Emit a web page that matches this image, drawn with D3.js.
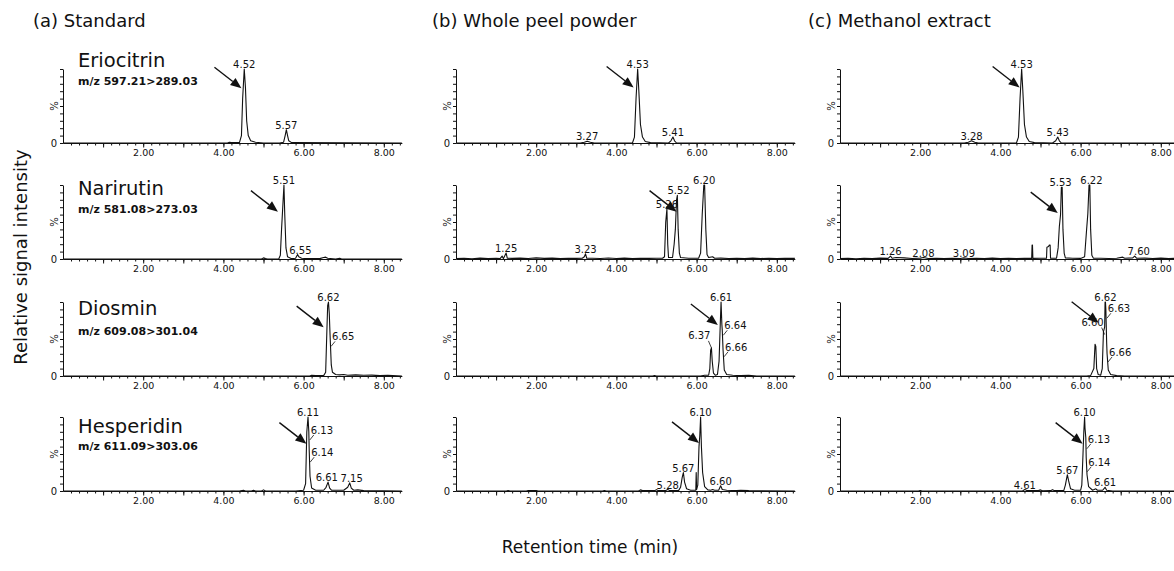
<!DOCTYPE html>
<html lang="en">
<head>
<meta charset="utf-8">
<title>MRM chromatograms</title>
<script src="https://cdn.jsdelivr.net/npm/d3@7"></script>
<style>
body { margin: 0; background: #fff; }
svg text { font-family: "DejaVu Sans", sans-serif; fill: #111; }
</style>
</head>
<body>
<div id="chart"></div>
<script>

var w = 1174, h = 571;

var columnTitles = ["(a) Standard", "(b) Whole peel powder", "(c) Methanol extract"];
var compounds = ["Eriocitrin", "Narirutin", "Diosmin", "Hesperidin"];
var transitions = ["m/z 597.21>289.03", "m/z 581.08>273.03", "m/z 609.08>301.04", "m/z 611.09>303.06"];
var timeTicks = [2, 4, 6, 8];

// traces: [retention time (min), % of max]
var eriStd = [[0,0],[4.1,0],[4.15,1],[4.2,0.5],[4.4,0.5],[4.45,10],[4.48,60],[4.52,100],[4.55,75],[4.58,30],[4.62,10],[4.68,3],[4.8,1],[5.0,0],[5.4,0],[5.5,1],[5.54,10],[5.57,18],[5.6,10],[5.63,3],[5.7,0.5],[8.45,0]];
var eriPeel = [[0,0],[3.1,0],[3.2,1],[3.27,2.5],[3.35,1],[3.45,0],[4.4,0],[4.45,8],[4.49,60],[4.53,100],[4.56,70],[4.6,25],[4.65,8],[4.72,2],[4.85,0.5],[5.3,0],[5.36,3],[5.41,8],[5.45,3],[5.5,0],[8.45,0]];
var eriMeoh = [[0,0],[3.1,0],[3.2,1],[3.28,3],[3.36,1],[3.45,0],[4.4,0],[4.45,8],[4.49,60],[4.53,100],[4.56,70],[4.6,25],[4.65,8],[4.72,2],[4.85,0.5],[5.3,0],[5.38,3],[5.43,8],[5.47,3],[5.52,0],[8.45,0]];

var nariStd = [[0,0],[4.95,0],[5.0,1.5],[5.05,0.5],[5.1,0],[5.38,0],[5.42,5],[5.45,40],[5.48,70],[5.51,100],[5.53,60],[5.56,15],[5.6,3],[5.7,0.5],[5.8,1],[5.85,6],[5.88,3],[5.95,1],[6.1,0.5],[6.4,0.5],[6.5,2],[6.55,2.5],[6.6,1],[6.8,0],[6.9,1],[6.95,0],[8.45,0]];
var nariPeel = [[0,0.5],[0.2,1],[0.4,0.3],[0.6,1.2],[0.8,0.5],[1.0,1],[1.1,0.5],[1.15,4],[1.18,0.5],[1.25,8],[1.28,1],[1.4,0.8],[1.6,1.2],[1.8,0.6],[2.0,1.5],[2.2,0.8],[2.4,1.2],[2.6,0.5],[2.8,1],[3.0,0.8],[3.15,1],[3.2,3],[3.23,7],[3.26,1],[3.4,1],[3.6,0.6],[3.8,1.3],[4.0,0.7],[4.2,1.2],[4.4,0.6],[4.6,1.1],[4.8,0.8],[5.0,1],[5.15,1],[5.2,3],[5.23,50],[5.26,68],[5.28,20],[5.3,2],[5.4,2],[5.44,20],[5.47,40],[5.5,80],[5.52,86],[5.54,40],[5.57,8],[5.6,2],[5.8,1],[6.05,1],[6.1,8],[6.14,60],[6.18,100],[6.2,100],[6.23,40],[6.26,6],[6.3,2],[6.4,3],[6.45,1],[6.6,1.2],[6.8,0.6],[7.0,1],[7.2,0.5],[7.4,1.2],[7.6,0.7],[7.8,1],[8.0,0.6],[8.2,1],[8.45,0.8]];
var nariMeoh = [[0,0.5],[0.2,1],[0.4,0.4],[0.6,1],[0.8,0.5],[1.0,1.2],[1.2,0.8],[1.26,4],[1.3,1],[1.4,2],[1.6,1.5],[1.8,0.6],[2.0,1.2],[2.08,2],[2.2,0.6],[2.4,1],[2.6,0.5],[2.8,1.1],[3.0,0.6],[3.09,1.5],[3.2,0.7],[3.4,1],[3.6,0.5],[3.8,1.2],[4.0,0.7],[4.2,1],[4.4,0.6],[4.6,1.1],[4.78,0.8],[4.79,19],[4.8,19],[4.81,0.8],[5.0,1],[5.15,1],[5.16,16],[5.2,17],[5.22,19],[5.24,19],[5.25,1],[5.4,1],[5.44,15],[5.47,44],[5.5,60],[5.52,97],[5.54,97],[5.56,40],[5.59,8],[5.62,1.5],[5.8,1],[6.0,0.8],[6.1,3],[6.15,40],[6.18,61],[6.21,100],[6.23,100],[6.25,40],[6.28,5],[6.32,1],[6.5,1],[6.7,0.6],[6.9,1],[7.05,2.5],[7.1,1],[7.3,1.5],[7.35,4],[7.4,1],[7.6,1.2],[7.8,0.6],[8.0,1.2],[8.2,0.7],[8.45,1]];

var dioStd = [[0,0],[6.15,0],[6.2,1],[6.3,0.5],[6.5,0.5],[6.55,5],[6.58,60],[6.6,95],[6.62,100],[6.64,85],[6.66,55],[6.69,15],[6.72,5],[6.8,2],[6.9,1.5],[7.0,2],[7.1,1],[7.3,1.5],[7.5,1],[7.7,1.2],[7.9,0.5],[8.1,1],[8.45,0]];
var dioPeel = [[0,0],[4.9,0],[4.95,0.5],[5.0,0],[6.1,0],[6.2,1],[6.3,1],[6.33,10],[6.35,35],[6.37,38],[6.39,20],[6.42,4],[6.47,1],[6.52,2],[6.56,20],[6.59,70],[6.61,100],[6.63,70],[6.64,62],[6.66,35],[6.69,8],[6.75,2],[6.9,1],[7.1,0.5],[7.3,0.8],[7.5,0],[8.45,0]];
var dioMeoh = [[0,0],[6.15,0],[6.25,0.5],[6.33,10],[6.36,43],[6.38,40],[6.4,10],[6.44,2],[6.5,1],[6.54,10],[6.57,60],[6.6,66],[6.61,100],[6.62,100],[6.63,90],[6.65,45],[6.66,30],[6.69,8],[6.75,2],[6.9,0.5],[7.1,0],[8.45,0]];

var hesStd = [[0,0],[4.4,0],[4.5,1],[4.55,0],[4.7,0],[4.75,1],[4.8,0],[4.95,0],[5.0,1.5],[5.05,0],[5.8,0],[6.0,1],[6.05,10],[6.08,80],[6.11,100],[6.13,80],[6.14,55],[6.16,20],[6.2,4],[6.3,1],[6.5,1],[6.56,5],[6.61,12],[6.65,4],[6.7,1],[7.0,1],[7.1,5],[7.15,11],[7.19,4],[7.25,1],[7.35,1.5],[7.5,0.5],[8.45,0]];
var hesPeel = [[0,0],[1.25,0],[1.3,0.5],[1.35,0],[1.75,0],[1.8,0.6],[2.0,0.6],[2.05,0],[3.65,0],[3.7,0.5],[3.75,0],[4.55,0],[4.6,1.5],[4.65,0.5],[4.95,0.5],[5.0,1.8],[5.05,0.5],[5.22,0.5],[5.28,2],[5.33,0.5],[5.55,0.5],[5.6,5],[5.64,18],[5.67,25],[5.7,12],[5.75,3],[5.85,1],[5.98,1],[5.99,25],[6.0,2],[6.03,8],[6.06,60],[6.08,75],[6.1,100],[6.12,60],[6.15,25],[6.2,6],[6.28,1.5],[6.35,1],[6.4,2],[6.45,1],[6.55,1],[6.6,7],[6.64,2],[6.75,1],[7.0,0.5],[7.1,1],[7.3,0.5],[8.45,0]];
var hesMeoh = [[0,0],[1.95,0],[2.0,0.5],[2.05,0],[4.55,0],[4.61,2],[4.67,0.5],[4.95,0.5],[5.0,1.5],[5.05,0.3],[5.25,0.5],[5.3,1.8],[5.35,0.5],[5.58,0.5],[5.62,8],[5.67,22],[5.7,14],[5.75,3],[5.85,1],[6.0,1],[6.03,8],[6.06,50],[6.08,80],[6.1,100],[6.11,85],[6.13,72],[6.14,45],[6.16,22],[6.2,6],[6.3,1],[6.38,3],[6.42,1],[6.55,1],[6.61,5],[6.65,1],[6.8,0],[8.45,0]];

// peak labels: [text, time, %, "t" above | "r" leader right | "l" leader left]
var eriStdLabels = [["4.52",4.52,100,"t"],["5.57",5.57,18,"t"]];
var eriPeelLabels = [["4.53",4.53,100,"t"],["3.27",3.27,2.5,"t"],["5.41",5.41,8,"t"]];
var eriMeohLabels = [["4.53",4.53,100,"t"],["3.28",3.28,3,"t"],["5.43",5.43,8,"t"]];
var nariStdLabels = [["5.51",5.51,100,"t"],["6.55",5.92,6,"t"]];
var nariPeelLabels = [["1.25",1.25,8,"t"],["3.23",3.23,7,"t"],["5.26",5.26,68,"t"],["5.52",5.55,86,"t"],["6.20",6.19,100,"t"]];
var nariMeohLabels = [["1.26",1.26,4,"t"],["2.08",2.08,2,"t"],["3.09",3.09,1.5,"t"],["5.53",5.5,97,"t"],["6.22",6.27,100,"t"],["7.60",7.45,4,"t"]];
var dioStdLabels = [["6.62",6.62,100,"t"],["6.65",6.66,40,"r"]];
var dioPeelLabels = [["6.61",6.61,100,"t"],["6.64",6.64,55,"r"],["6.66",6.66,26,"r"],["6.37",6.37,38,"l"]];
var dioMeohLabels = [["6.62",6.62,100,"t"],["6.63",6.63,78,"r"],["6.60",6.6,56,"l"],["6.66",6.66,19,"r"]];
var hesStdLabels = [["6.11",6.11,100,"t"],["6.13",6.13,69,"r"],["6.14",6.14,39,"r"],["6.61",6.58,12,"t"],["7.15",7.2,11,"t"]];
var hesPeelLabels = [["6.10",6.1,100,"t"],["5.67",5.67,25,"t"],["5.28",5.28,2,"t"],["6.60",6.6,7,"t"]];
var hesMeohLabels = [["6.10",6.1,100,"t"],["6.13",6.13,57,"r"],["6.14",6.14,26,"r"],["5.67",5.67,22,"t"],["4.61",4.61,2,"t"],["6.61",6.61,5,"t"]];

// arrow tips [time, %], one per panel (rows: compounds, cols: samples)
var eriArrows = [[4.45,74],[4.43,75],[4.48,75]];
var nariArrows = [[5.36,64],[5.5,64],[5.43,62]];
var dioArrows = [[6.5,66],[6.53,69],[6.45,72]];
var hesArrows = [[6.07,64],[6.06,65],[6.05,64]];

var traces = [[eriStd, eriPeel, eriMeoh], [nariStd, nariPeel, nariMeoh], [dioStd, dioPeel, dioMeoh], [hesStd, hesPeel, hesMeoh]];
var labels = [[eriStdLabels, eriPeelLabels, eriMeohLabels], [nariStdLabels, nariPeelLabels, nariMeohLabels],
              [dioStdLabels, dioPeelLabels, dioMeohLabels], [hesStdLabels, hesPeelLabels, hesMeohLabels]];
var arrows = [eriArrows, nariArrows, dioArrows, hesArrows];

// layout
var colX0 = [63, 456, 840];
var unit = 40.1;
var rowBase = [143, 259, 376, 491];
var plotH = 74;
var titleX = [33, 432, 808];
var nameY = [67, 195, 315, 433];
var mzY = [85, 213, 335, 450];

var svg = d3.select("#chart")
  .append("svg")
  .attr("width", w)
  .attr("height", h);

svg.selectAll("text.coltitle")
  .data(columnTitles)
  .enter()
  .append("text")
  .attr("class", "coltitle")
  .attr("x", function(d, i) { return titleX[i]; })
  .attr("y", 27)
  .style("font-size", "18px")
  .text(function(d) { return d; });

// axis titles
svg.append("text")
  .attr("transform", "translate(27,257) rotate(-90)")
  .attr("text-anchor", "middle")
  .style("font-size", "18px")
  .text("Relative signal intensity");

svg.append("text")
  .attr("x", 590)
  .attr("y", 553)
  .attr("text-anchor", "middle")
  .style("font-size", "17px")
  .text("Retention time (min)");

var line = d3.line()
  .x(function(d) { return d[0]; })
  .y(function(d) { return d[1]; });

function drawPanel(r, c) {
  var x = d3.scaleLinear().domain([0, 8.45]).range([colX0[c], colX0[c] + 8.45 * unit]);
  var y = d3.scaleLinear().domain([0, 100]).range([rowBase[r], rowBase[r] - plotH]);
  var g = svg.append("g");

  // minor x ticks
  g.append("g")
    .attr("transform", "translate(0," + rowBase[r] + ")")
    .call(d3.axisBottom(x).tickValues(d3.range(0.2, 8.45, 0.2)).tickSize(2.5).tickSizeOuter(0).tickFormat(""))
    .call(function(s) { s.select(".domain").remove(); });

  // major x ticks with labels
  var xa = g.append("g")
    .attr("transform", "translate(0," + rowBase[r] + ")")
    .call(d3.axisBottom(x).tickValues([1, 2, 3, 4, 5, 6, 7, 8]).tickSize(4.5).tickSizeOuter(0)
      .tickFormat(function(d) { return timeTicks.indexOf(d) >= 0 ? d3.format(".2f")(d) : ""; }));
  xa.selectAll("text").attr("dy", "0.55em").style("font-size", "9.5px").style("font-family", "DejaVu Sans");

  var ya = g.append("g")
    .attr("transform", "translate(" + colX0[c] + ",0)")
    .call(d3.axisLeft(y).tickValues(d3.range(0, 101, 10)).tickSize(3).tickSizeOuter(0).tickFormat(""));
  g.selectAll(".domain, .tick line").attr("stroke", "#111");

  g.append("text")
    .attr("x", colX0[c] - 6)
    .attr("y", rowBase[r] + 4)
    .attr("text-anchor", "end")
    .style("font-size", "10px")
    .text("0");

  g.append("text")
    .attr("transform", "translate(" + (colX0[c] - 5) + "," + y(50) + ") rotate(-90)")
    .attr("text-anchor", "middle")
    .style("font-size", "10px")
    .text("%");

  g.append("path")
    .attr("d", line(traces[r][c].map(function(p) { return [x(p[0]), y(p[1])]; })))
    .attr("fill", "none")
    .attr("stroke", "#111")
    .attr("stroke-width", 1.1)
    .attr("stroke-linejoin", "round");

  labels[r][c].forEach(function(l) {
    var px = x(l[1]), py = y(l[2]);
    if (l[3] === "t") {
      g.append("text").attr("x", px).attr("y", py - 1).attr("text-anchor", "middle")
        .style("font-size", "10px").text(l[0]);
    } else if (l[3] === "r") {
      g.append("line").attr("x1", px + 1).attr("y1", py).attr("x2", px + 5).attr("y2", py - 5)
        .attr("stroke", "#111").attr("stroke-width", 0.8);
      g.append("text").attr("x", px + 2).attr("y", py - 6)
        .style("font-size", "10px").text(l[0]);
    } else {
      g.append("line").attr("x1", px).attr("y1", py).attr("x2", px - 3).attr("y2", py - 7)
        .attr("stroke", "#111").attr("stroke-width", 0.8);
      g.append("text").attr("x", px - 1).attr("y", py - 9).attr("text-anchor", "end")
        .style("font-size", "10px").text(l[0]);
    }
  });

  // arrow pointing at the target peak
  var tip = arrows[r][c];
  var tx = x(tip[0]), ty = y(tip[1]);
  var dx = -27, dy = -21;
  var len = Math.sqrt(dx * dx + dy * dy), ux = dx / len, uy = dy / len;
  var hl = 11, hw = 4.5;
  var bx = tx + ux * hl, by = ty + uy * hl;
  g.append("line")
    .attr("x1", tx + dx).attr("y1", ty + dy).attr("x2", bx).attr("y2", by)
    .attr("stroke", "#111").attr("stroke-width", 1.4);
  g.append("path")
    .attr("d", "M" + tx + "," + ty + "L" + (bx - uy * hw) + "," + (by + ux * hw) + "L" + (bx + uy * hw) + "," + (by - ux * hw) + "Z")
    .attr("fill", "#111");

  if (c === 0) {
    g.append("text").attr("x", 78).attr("y", nameY[r]).style("font-size", "19.5px").text(compounds[r]);
    g.append("text").attr("x", 78).attr("y", mzY[r]).style("font-size", "11px").style("font-weight", "bold").text(transitions[r]);
  }
}

for (var r = 0; r < 4; r++) {
  for (var c = 0; c < 3; c++) {
    drawPanel(r, c);
  }
}

</script>
</body>
</html>
